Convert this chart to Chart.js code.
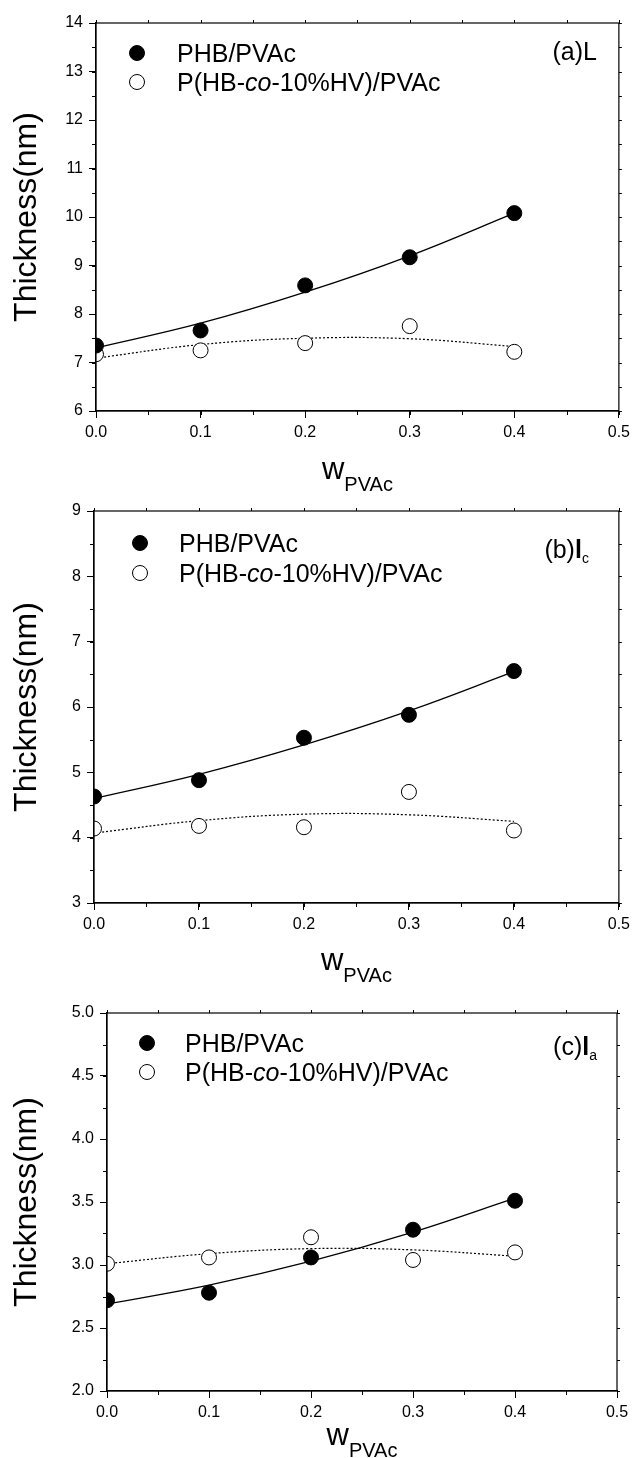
<!DOCTYPE html>
<html>
<head>
<meta charset="utf-8">
<script src="https://cdn.jsdelivr.net/npm/chart.js@4.4.1/dist/chart.umd.min.js"></script>
<style>
  body { margin: 0; background: #fff; }
  canvas { position: absolute; left: 0; }
</style>
</head>
<body>
<canvas id="chartL" width="635" height="495" style="top:0"></canvas>
<canvas id="chartLc" width="635" height="495" style="top:495px"></canvas>
<canvas id="chartLa" width="635" height="468" style="top:990px"></canvas>
<script>
// weight fraction of PVAc
const wPVAc = [0, 0.1, 0.2, 0.3, 0.4];
const xTickLabels = ['0.0', '0.1', '0.2', '0.3', '0.4', '0.5'];

// (a) long period L
const phbL = [7.35, 7.66, 8.59, 9.17, 10.08];
const phbvL = [7.17, 7.25, 7.40, 7.75, 7.22];
const phbLFit = [7.30, 7.81, 8.45, 9.20, 10.08];
const phbvLFit = [7.09, 7.37, 7.50, 7.49, 7.33];

// (b) lamellar thickness lc
const phbLc = [4.63, 4.88, 5.53, 5.88, 6.55];
const phbvLc = [4.14, 4.18, 4.16, 4.70, 4.11];
const phbLcFit = [4.60, 4.97, 5.42, 5.94, 6.54];
const phbvLcFit = [4.07, 4.26, 4.36, 4.35, 4.25];

// (c) amorphous thickness la
const phbLa = [2.72, 2.78, 3.06, 3.28, 3.51];
const phbvLa = [3.01, 3.06, 3.22, 3.04, 3.10];
const phbLaFit = [2.69, 2.84, 3.03, 3.26, 3.53];
const phbvLaFit = [3.01, 3.09, 3.13, 3.12, 3.07];

const legendLabels = [
  [{ t: 'PHB/PVAc' }],
  [{ t: 'P(HB-' }, { t: 'co', italic: true }, { t: '-10%HV)/PVAc' }]
];

Chart.defaults.font.family = "'Liberation Sans', Arial, sans-serif";
Chart.defaults.color = '#000';

function pts(ys) {
  return wPVAc.map((x, i) => ({ x: x, y: ys[i] }));
}

function setFont(ctx, r, size) {
  const s = r.size || size;
  ctx.font = (r.italic ? 'italic ' : '') + (r.bold ? 'bold ' : '') + s + "px 'Liberation Sans', Arial, sans-serif";
}

function drawRuns(ctx, runs, x, y, size) {
  runs.forEach(r => {
    setFont(ctx, r, size);
    ctx.fillText(r.t, x, y + (r.dy || 0));
    x += ctx.measureText(r.t).width;
  });
  return x;
}

function runsWidth(ctx, runs, size) {
  let w = 0;
  runs.forEach(r => {
    setFont(ctx, r, size);
    w += ctx.measureText(r.t).width;
  });
  return w;
}

// frame, minor ticks, mirrored ticks, legend, panel label, x title
const decor = {
  id: 'decor',
  afterDraw(chart, args, o) {
    const { ctx, chartArea: a, scales: { x, y } } = chart;
    ctx.save();
    ctx.strokeStyle = '#000';
    ctx.lineWidth = 1.2;
    ctx.strokeRect(a.left, a.top, a.right - a.left, a.bottom - a.top);
    ctx.lineWidth = 1;
    ctx.beginPath();
    for (let v = x.min; v <= x.max + 1e-9; v += o.xMinor) {
      const px = Math.round(x.getPixelForValue(v)) + 0.5;
      ctx.moveTo(px, a.bottom); ctx.lineTo(px, a.bottom + 4);
      ctx.moveTo(px, a.top); ctx.lineTo(px, a.top - 3);
    }
    for (let v = y.min; v <= y.max + 1e-9; v += o.yMinor) {
      const py = Math.round(y.getPixelForValue(v)) + 0.5;
      ctx.moveTo(a.left, py); ctx.lineTo(a.left - 4, py);
      ctx.moveTo(a.right, py); ctx.lineTo(a.right + 3, py);
    }
    ctx.stroke();

    // legend
    ctx.fillStyle = '#000';
    ctx.textBaseline = 'alphabetic';
    [0, 1].forEach(i => {
      const ds = chart.data.datasets[i];
      const cx = a.left + o.legX, cy = a.top + o.legY[i];
      ctx.beginPath();
      ctx.arc(cx, cy, 7.5, 0, Math.PI * 2);
      ctx.fillStyle = ds.pointBackgroundColor;
      ctx.fill();
      ctx.strokeStyle = '#000';
      ctx.lineWidth = 1;
      ctx.stroke();
      ctx.fillStyle = '#000';
      drawRuns(ctx, legendLabels[i], a.left + o.legTextX, cy + 8.5, 25);
    });

    // panel label
    const lw = runsWidth(ctx, o.label, 25);
    drawRuns(ctx, o.label, a.right - o.labelRight - lw, a.top + o.labelY, 25);

    // x axis title
    const xt = [{ t: 'w', size: 31 }, { t: 'PVAc', size: 20, dy: 12 }];
    const xw = runsWidth(ctx, xt, 31);
    drawRuns(ctx, xt, (a.left + a.right) / 2 - xw / 2, a.bottom + o.xTitleY, 31);
    ctx.restore();
  }
};

function makeChart(id, p) {
  new Chart(document.getElementById(id), {
    type: 'scatter',
    data: {
      datasets: [
        { data: pts(p.phb), pointRadius: 7.5, pointBackgroundColor: '#000', pointBorderColor: '#000', pointBorderWidth: 1 },
        { data: pts(p.phbv), pointRadius: 7.5, pointBackgroundColor: '#fff', pointBorderColor: '#000', pointBorderWidth: 1 },
        { data: pts(p.phbFit), showLine: true, pointRadius: 0, borderColor: '#000', borderWidth: 1.3, tension: 0.4 },
        { data: pts(p.phbvFit), showLine: true, pointRadius: 0, borderColor: '#000', borderWidth: 1.2, borderDash: [2, 2], tension: 0.4 }
      ]
    },
    options: {
      responsive: false,
      animation: false,
      events: [],
      layout: { padding: { left: 0, right: p.padRight, top: p.padTop, bottom: 0 } },
      plugins: {
        legend: { display: false },
        tooltip: { enabled: false },
        decor: p.decor
      },
      scales: {
        x: {
          type: 'linear', min: 0, max: 0.5,
          afterFit: s => { s.height = p.xHeight; },
          ticks: { stepSize: 0.1, padding: 5, font: { size: 16 }, callback: (v, i) => xTickLabels[i] },
          grid: { drawOnChartArea: false, tickLength: 7, tickColor: '#000', tickWidth: 1 },
          border: { color: '#000', width: 1.2 }
        },
        y: {
          type: 'linear', min: p.yMin, max: p.yMax,
          afterFit: s => { s.width = p.yWidth; },
          ticks: { stepSize: p.yStep, padding: 6, font: { size: 16 }, callback: v => v.toFixed(p.yDec) },
          grid: { drawOnChartArea: false, tickLength: 7, tickColor: '#000', tickWidth: 1 },
          border: { color: '#000', width: 1.2 },
          title: { display: true, text: 'Thickness(nm)', font: { size: 32 }, padding: { top: 8, bottom: 0 } }
        }
      }
    },
    plugins: [decor]
  });
}

makeChart('chartL', {
  phb: phbL, phbv: phbvL, phbFit: phbLFit, phbvFit: phbvLFit,
  yMin: 6, yMax: 14, yStep: 1, yDec: 0,
  padTop: 23, padRight: 13, xHeight: 84, yWidth: 96,
  decor: { xMinor: 0.05, yMinor: 0.5, legX: 41, legY: [30, 59], legTextX: 81,
           label: [{ t: '(a)L' }], labelRight: 22, labelY: 37, xTitleY: 68 }
});

makeChart('chartLc', {
  phb: phbLc, phbv: phbvLc, phbFit: phbLcFit, phbvFit: phbvLcFit,
  yMin: 3, yMax: 9, yStep: 1, yDec: 0,
  padTop: 16, padRight: 12, xHeight: 87, yWidth: 94,
  decor: { xMinor: 0.05, yMinor: 0.5, legX: 46, legY: [32, 62], legTextX: 85,
           label: [{ t: '(b)' }, { t: 'l', bold: true }, { t: 'c', size: 14, dy: 5 }], labelRight: 30, labelY: 47, xTitleY: 67 }
});

makeChart('chartLa', {
  phb: phbLa, phbv: phbvLa, phbFit: phbLaFit, phbvFit: phbvLaFit,
  yMin: 2, yMax: 5, yStep: 0.5, yDec: 1,
  padTop: 23, padRight: 18, xHeight: 67, yWidth: 107,
  decor: { xMinor: 0.05, yMinor: 0.25, legX: 40, legY: [30, 59], legTextX: 78,
           label: [{ t: '(c)' }, { t: 'l', bold: true }, { t: 'a', size: 14, dy: 5 }], labelRight: 20, labelY: 42, xTitleY: 54 }
});
</script>
</body>
</html>
